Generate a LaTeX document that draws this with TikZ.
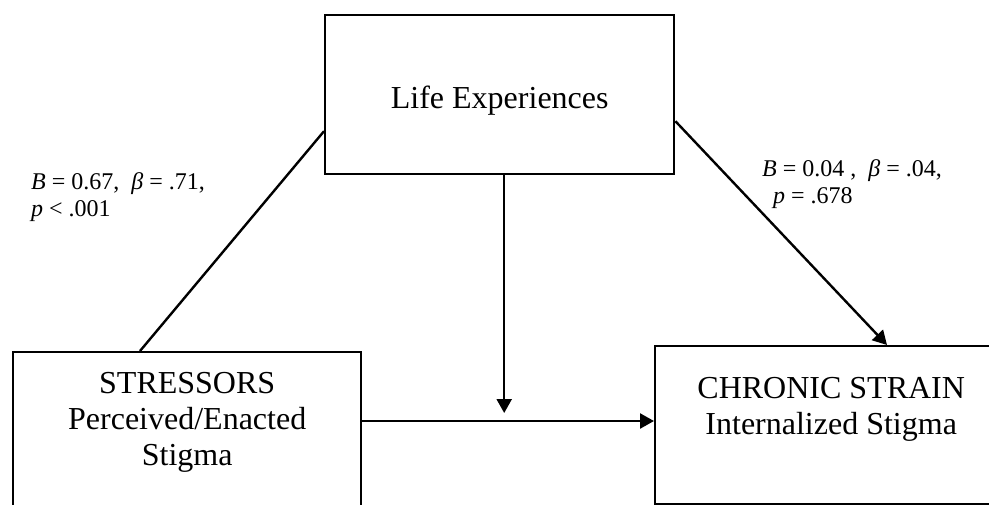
\documentclass[tikz,border=0pt]{standalone}
\usepackage{fontspec}
\setmainfont{Liberation Serif}
\usetikzlibrary{arrows.meta,calc}

\begin{document}
\begin{tikzpicture}[x=0.5pt,y=-0.5pt,line width=1.2pt,
  box/.style={draw,anchor=north west,align=center,minimum height=79pt,font=\fontsize{16}{18}\selectfont},
  coef/.style={anchor=north west,align=left,inner sep=0pt,font=\fontsize{12}{13.5}\selectfont}]
\useasboundingbox (0,0) rectangle (989,504);
\clip (0,0) rectangle (989,504);
% the three blocks
\node[box,minimum width=174.5pt,minimum height=79.5pt,text height=13.5pt,text depth=0pt] (life) at (324,14) {Life Experiences};
\node[box,minimum width=174pt,text height=40pt,text depth=6pt] (stress) at (12,351) {STRESSORS\\Perceived/Enacted\\Stigma};
\node[box,minimum width=176pt,text height=27pt,text depth=18pt] (strain) at (654,345) {CHRONIC STRAIN\\Internalized Stigma};

% path coefficients
\node[coef] (coefa) at (30,171) {\textit{B} = 0.67,~ \textit{β} = .71,\\\textit{p} < .001};
\node[coef] (coefb) at (761,158) {\textit{B} = 0.04 ,~ \textit{β} = .04,\\\hspace{5.5pt}\textit{p} = .678};

\draw ([xshift=64pt]stress.north west) -- ([yshift=-18.25pt]life.west);
\draw[-{Triangle[length=7pt,width=7.5pt]}] ([yshift=-13.25pt]life.east) -- ([xshift=116.5pt]strain.north west);
\draw[-{Triangle[length=7pt,width=7.5pt]}] ([yshift=-35pt]stress.north east) coordinate (h) -- (h -| strain.west);
\draw[-{Triangle[length=7pt,width=7.5pt]}] ([xshift=2.25pt]life.south) coordinate (v) -- ([yshift=4pt]v |- h);
\end{tikzpicture}
\end{document}
